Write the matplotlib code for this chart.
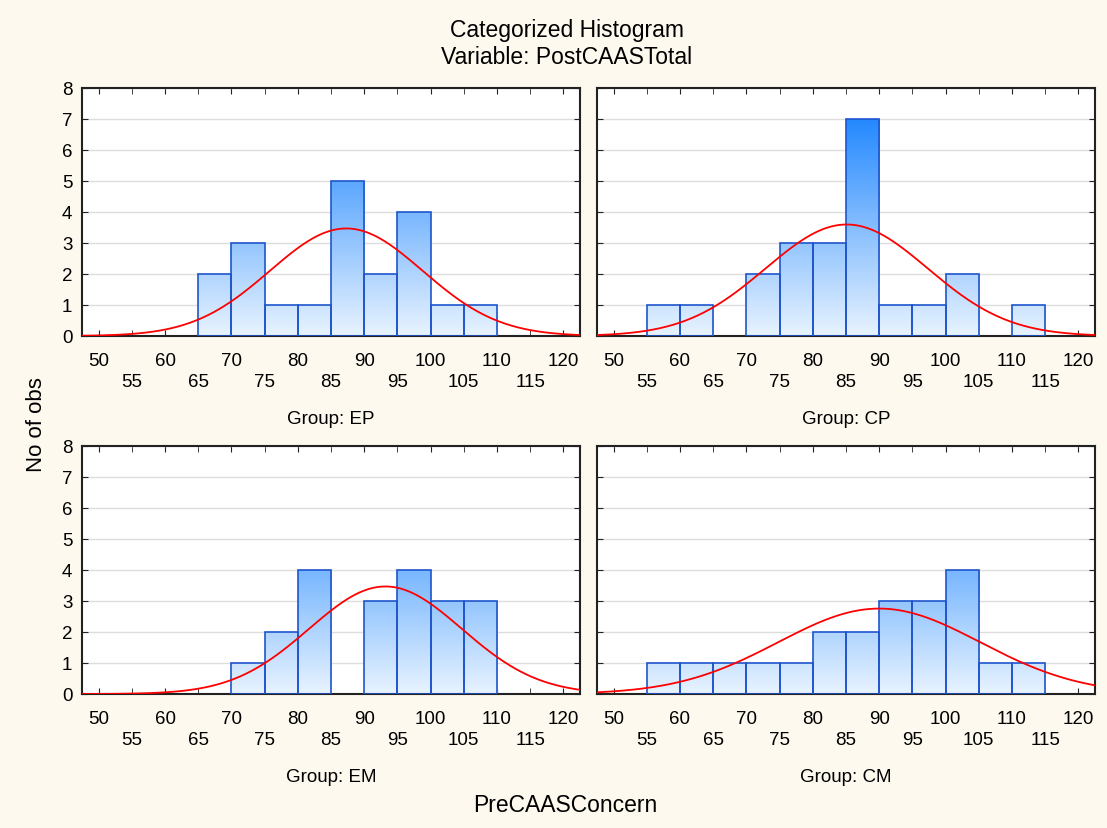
import numpy as np
import matplotlib.pyplot as plt
from matplotlib.colors import LinearSegmentedColormap

plt.rcParams['font.family'] = ['Liberation Sans', 'DejaVu Sans']

# bins of PreCAASConcern (width 5)
bin_left = [50, 55, 60, 65, 70, 75, 80, 85, 90, 95, 100, 105, 110, 115]

groups = ["EP", "CP", "EM", "CM"]
counts_ep = [0, 0, 0, 2, 3, 1, 1, 5, 2, 4, 1, 1, 0, 0]
counts_cp = [0, 1, 1, 0, 2, 3, 3, 7, 1, 1, 2, 0, 1, 0]
counts_em = [0, 0, 0, 0, 1, 2, 4, 0, 3, 4, 3, 3, 0, 0]
counts_cm = [0, 1, 1, 1, 1, 1, 2, 2, 3, 3, 4, 1, 1, 0]

# fitted normal curves (mean, sd)
fit_mean = [87.3, 85.1, 93.2, 90.0]
fit_sd = [11.5, 12.2, 11.5, 15.2]

all_counts = [counts_ep, counts_cp, counts_em, counts_cm]
bw = 5
bg = '#fdf9ee'
cmap = LinearSegmentedColormap.from_list('g', ['#e8f3fe', '#1f86ff'])

fig = plt.figure(figsize=(11.07, 8.29), dpi=100, facecolor=bg)
W, H = 1107, 829
boxes = [(82, 89), (597, 89), (82, 447), (597, 447)]
aw, ah = 498, 248

for i, (g, cnt) in enumerate(zip(groups, all_counts)):
    x0, y0 = boxes[i]
    ax = fig.add_axes([x0 / W, 1 - (y0 + ah) / H, aw / W, ah / H])
    ax.set_facecolor('white')
    ax.grid(axis='y', color='#dddddd', lw=1)
    ax.set_axisbelow(True)
    for left, c in zip(bin_left, cnt):
        if c == 0:
            continue
        grad = np.linspace(0, c, 200).reshape(-1, 1)
        ax.imshow(grad, extent=[left, left + bw, 0, c], origin='lower',
                  cmap=cmap, vmin=0, vmax=7.2, aspect='auto', zorder=2)
        ax.bar(left, c, width=bw, align='edge', facecolor='none',
               edgecolor='#1f55cc', lw=1.2, zorder=3)
    n = sum(cnt)
    xs = np.linspace(47.5, 122.5, 400)
    ys = n * bw / (fit_sd[i] * np.sqrt(2 * np.pi)) * np.exp(-(xs - fit_mean[i]) ** 2 / (2 * fit_sd[i] ** 2))
    ax.plot(xs, ys, color='#ff0000', lw=1.3, zorder=4)

    ax.set_xticks(range(50, 121, 10))
    ax.set_xticks(range(55, 116, 10), minor=True)
    ax.set_xticklabels([str(v) for v in range(50, 121, 10)])
    ax.set_xticklabels([str(v) for v in range(55, 116, 10)], minor=True)
    ax.tick_params(axis='x', which='both', direction='in', top=True, length=4,
                   labelsize=13.5, color='#222222')
    ax.tick_params(axis='x', which='major', pad=11.5)
    ax.tick_params(axis='x', which='minor', pad=27)
    ax.set_yticks(range(0, 9))
    ax.tick_params(axis='y', direction='in', right=True, length=4, labelsize=13.5,
                   pad=7, color='#222222')
    if i % 2 == 1:
        ax.set_yticklabels([])
    for s in ax.spines.values():
        s.set_color('#222222')
        s.set_linewidth(1.5)
    fig.text((x0 + aw / 2) / W, 1 - (y0 + 331) / H, "Group: " + g,
             ha='center', va='center', fontsize=13.5)
    ax.set_xlim(47.5, 122.5)
    ax.set_ylim(0, 8)

fig.text(567 / W, 1 - 30 / H, "Categorized Histogram", ha='center', va='center', fontsize=16.5)
fig.text(567 / W, 1 - 57 / H, "Variable: PostCAASTotal", ha='center', va='center', fontsize=16.5)
fig.text(565 / W, 1 - 806 / H, "PreCAASConcern", ha='center', va='center', fontsize=16.5)
fig.text(37 / W, 1 - 425 / H, "No of obs", ha='center', va='center', rotation=90, fontsize=16)

fig.savefig('out.png', dpi=100, facecolor=bg)
